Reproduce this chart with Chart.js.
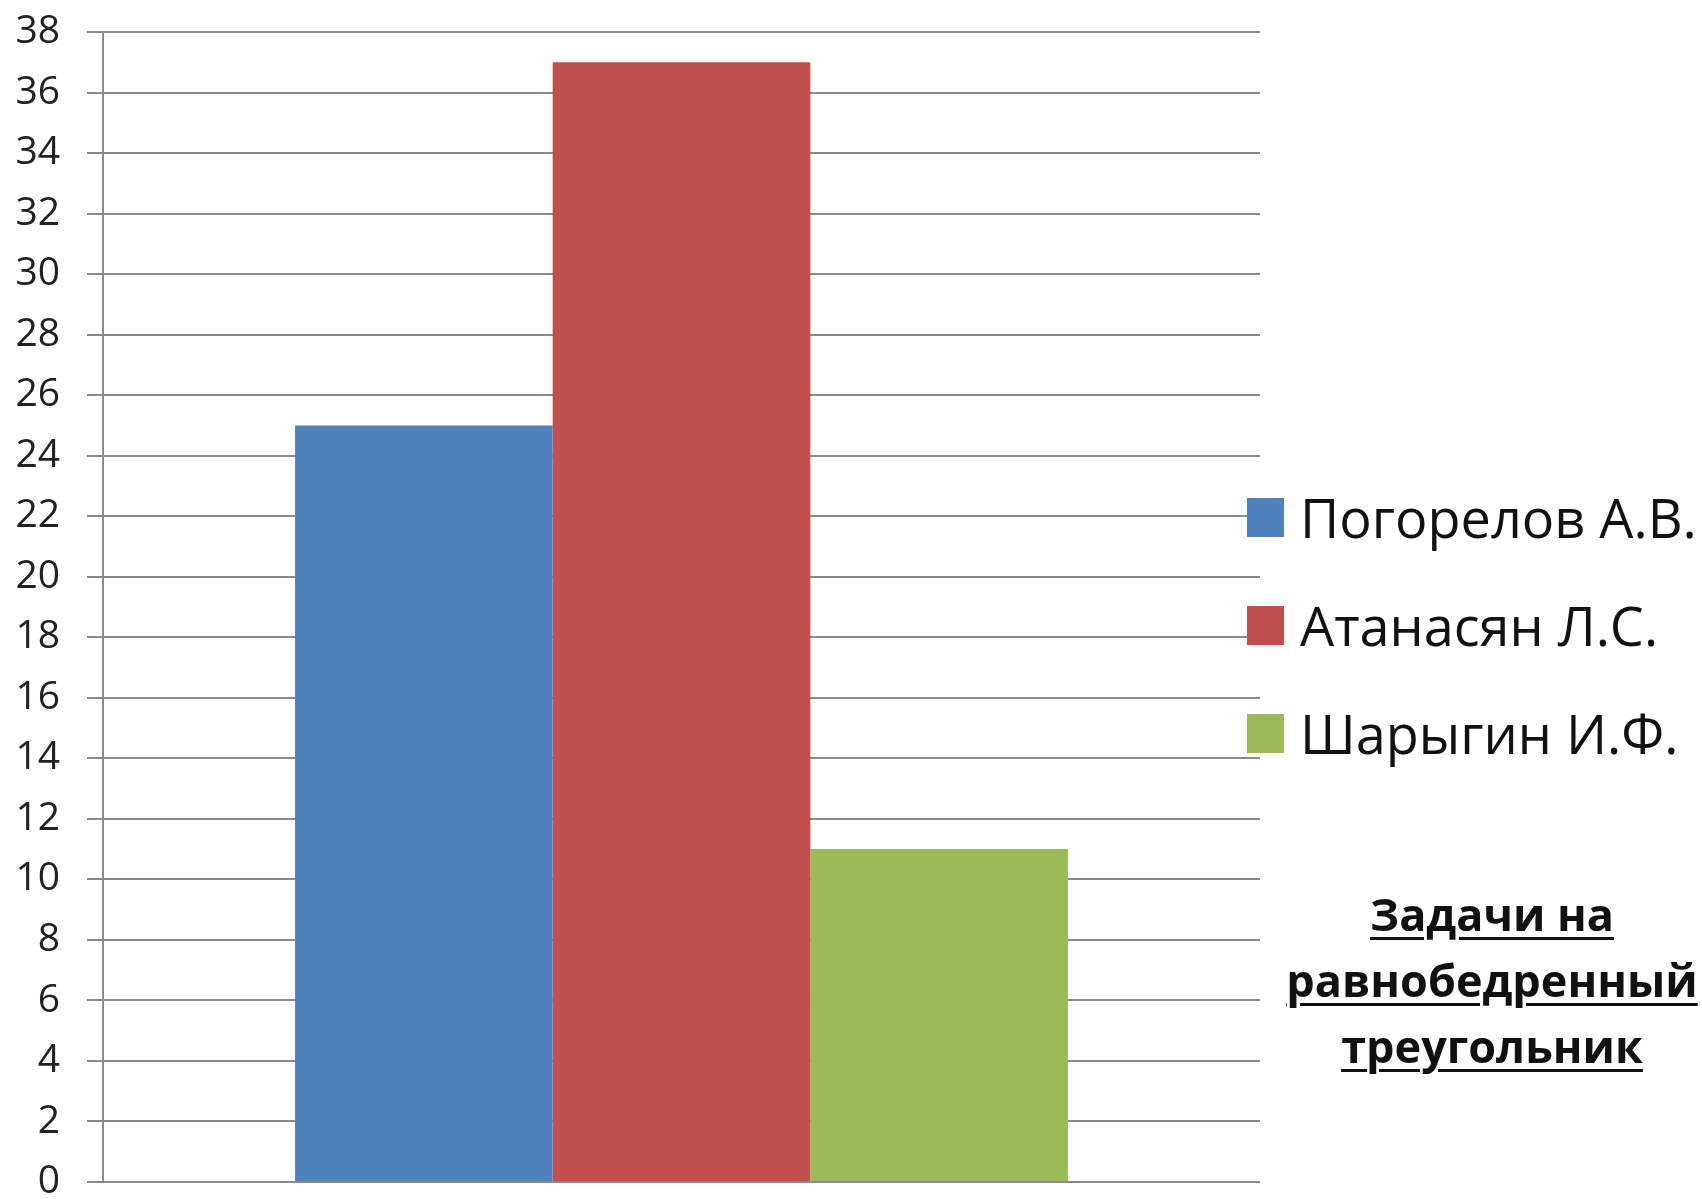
<!DOCTYPE html>
<html>
<head>
<meta charset="utf-8">
<script src="https://cdn.jsdelivr.net/npm/chart.js@4.4.1/dist/chart.umd.min.js"></script>
<style>
  body { margin: 0; background: #fff; }
  #wrap { position: relative; width: 1702px; height: 1199px; }
  #legend { position: absolute; left: 1247px; top: 463px; font-family: "Open Sans", sans-serif; font-size: 54px; color: #111; }
  .row { display: flex; align-items: center; height: 108px; white-space: nowrap; }
  .box { width: 37px; height: 39px; margin-right: 16px; }
  #title { position: absolute; left: 1282px; width: 420px; top: 881px; text-align: center;
           font-family: "Open Sans", sans-serif; font-weight: bold; font-size: 45px; line-height: 66px;
           color: #111; text-decoration: underline; text-decoration-thickness: 3px; text-underline-offset: 6px; }
</style>
</head>
<body>
<div id="wrap">
  <canvas id="chart" width="1702" height="1199"></canvas>
  <div id="legend"></div>
  <div id="title">Задачи на<br>равнобедренный<br>треугольник</div>
</div>
<script>
// textbook authors and number of problems on the isosceles triangle
const seriesNames = ['Погорелов А.В.', 'Атанасян Л.С.', 'Шарыгин И.Ф.'];
const seriesValues = [25, 37, 11];
const seriesColors = ['#4f81bd', '#c0504d', '#9bbb59'];
const yTicks = [0, 38, 2]; // min, max, step

const legend = document.getElementById('legend');
seriesNames.forEach((name, i) => {
    const row = document.createElement('div');
    row.className = 'row';
    row.innerHTML = `<span class="box" style="background:${seriesColors[i]}"></span><span>${name}</span>`;
    legend.appendChild(row);
});

const ctx = document.getElementById('chart').getContext('2d');
new Chart(ctx, {
    type: 'bar',
    data: {
        labels: [''],
        datasets: seriesNames.map((name, i) => ({
            label: name,
            data: [seriesValues[i]],
            backgroundColor: seriesColors[i],
            borderWidth: 0,
            barPercentage: 1,
            categoryPercentage: 0.668
        }))
    },
    options: {
        responsive: false,
        animation: false,
        layout: { padding: { top: 32, right: 442, bottom: 17, left: 0 } },
        plugins: { legend: { display: false }, tooltip: { enabled: false } },
        scales: {
            x: { display: false },
            y: {
                min: yTicks[0],
                max: yTicks[1],
                afterFit: (scale) => {
                    // fixed axis width; let the tick labels overhang the plot edges
                    scale.width = 103;
                    scale.paddingTop = 0;
                    scale.paddingBottom = 0;
                },
                ticks: {
                    stepSize: yTicks[2],
                    padding: 27,
                    color: '#222',
                    font: { family: '"Open Sans", sans-serif', size: 39 }
                },
                grid: { color: '#8a8a8a', lineWidth: 2, tickLength: 16 },
                border: { color: '#8a8a8a', width: 2 }
            }
        }
    }
});
</script>
</body>
</html>
